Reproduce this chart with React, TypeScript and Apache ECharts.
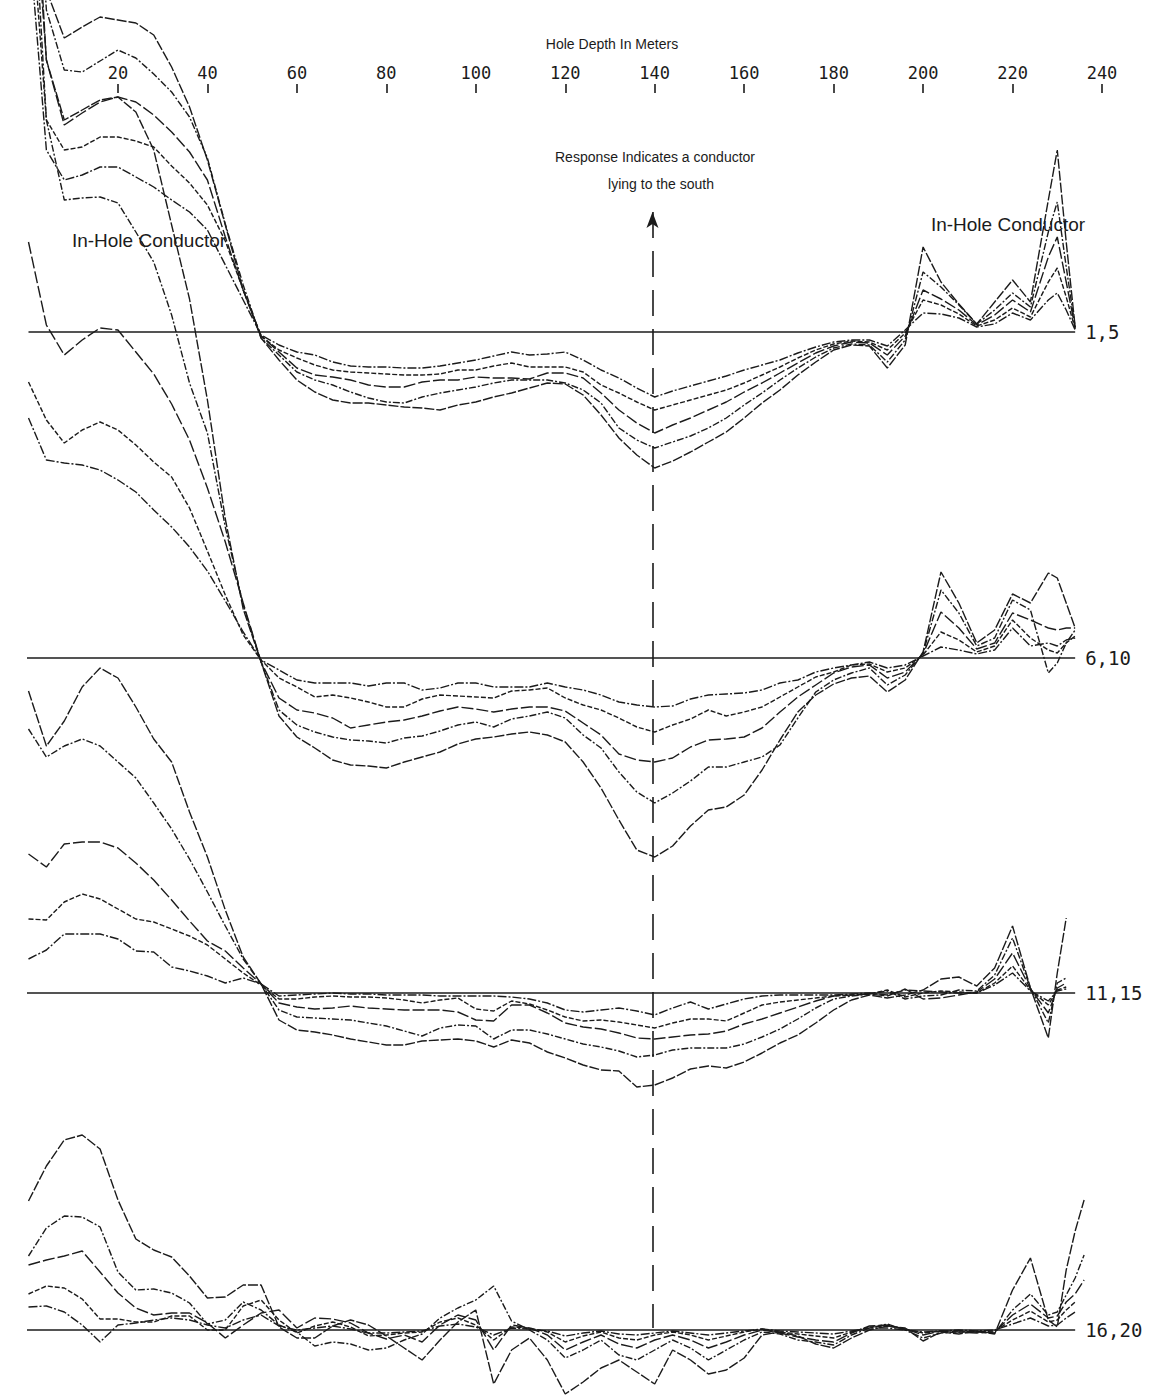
import React, { useEffect, useRef } from "react";
import * as echarts from "echarts";

// ---------------- data ----------------
const DEPTHS = [0,4,8,12,16,20,24,28,32,36,40,44,48,52,56,60,64,68,72,76,80,84,88,92,96,100,104,108,112,116,120,124,128,132,136,140,144,148,152,156,160,164,168,172,176,180,184,188,192,196,200,204,208,212,216,220,224,228,230,232,234,236];
const TICK_DEPTHS = [20,40,60,80,100,120,140,160,180,200,220,240];
const PANEL_LABELS = ["1,5", "6,10", "11,15", "16,20"];
const BASE_START = [0, -1.5, -2, -3.5];
const BASE_END = 234;

// Panel 1 (channels 1-5)
const P1_CH1 = [700,342,294,305,315,312,309,297,265,225,172,107,42,-6, -28,-48,-60,-68,-71,-71,-73,-75,-76,-78,-73,-70,-65,-61,-56,-51,-52,-63,-83,-106,-123,-136,-129,-120, -110,-100,-86,-71,-58,-43,-30,-18,-13,-14,-36,-13, 85,50,28,8,30,52,30,132,182,90,5,null];
const P1_CH2 = [600,322,262,260,271,282,274,258,240,215,174,108,47,-6, -23,-40,-48,-53,-60,-66,-70,-71,-65,-61,-58,-55,-51,-48,-48,-48,-51,-58,-71,-96,-108,-116,-110,-104, -96,-86,-73,-61,-48,-36,-25,-16,-12,-13,-30,-8, 60,45,27,8,22,39,25,100,130,65,5,null];
const P1_CH3 = [520,272,207,219,230,235,230,217,200,180,152,95,42,-4, -20,-36,-43,-45,-48,-53,-55,-55,-50,-48,-48,-45,-46,-46,-47,-41,-41,-46,-61,-78,-91,-101,-93,-86, -78,-70,-60,-51,-41,-31,-21,-14,-10,-11,-23,-4, 42,33,22,7,17,32,20,75,95,50,4,null];
const P1_CH4 = [450,212,182,185,195,195,191,185,166,149,127,91,42,-4, -18,-26,-33,-38,-40,-41,-42,-43,-43,-42,-38,-38,-34,-31,-35,-35,-35,-40,-53,-61,-70,-78,-73,-68, -63,-58,-51,-43,-35,-26,-18,-12,-9,-10,-18,-1, 32,27,18,6,12,24,15,50,64,35,3,null];
const P1_CH5 = [400,182,152,157,165,165,155,145,132,120,102,67,32,-3, -13,-20,-23,-30,-34,-35,-35,-36,-36,-34,-31,-28,-24,-20,-23,-22,-20,-28,-38,-46,-56,-65,-59,-54, -49,-44,-38,-33,-28,-21,-15,-10,-8,-8,-14,2, 19,18,14,5,8,19,12,32,39,22,2,null];

// Panel 2 (channels 6-10)
const P2_CH1 = [900,598,538,548,558,561,546,508,433,359,258,139,49,-4, -58,-79,-90,-102,-107,-108,-110,-104,-99,-94,-86,-81,-79,-76,-74,-77,-84,-104,-130,-162,-192,-199,-188,-168, -152,-149,-137,-112,-82,-54,-37,-26,-20,-18,-34,-22, 6,86,55,15,28,64,55,85,80,55,30,null];
const P2_CH2 = [850,538,458,460,461,455,426,396,343,275,225,131,53,-4, -52,-67,-74,-79,-82,-83,-85,-80,-78,-73,-67,-64,-69,-61,-58,-54,-60,-77,-90,-114,-134,-145,-135,-123, -109,-109,-104,-99,-87,-60,-34,-22,-15,-10,-27,-17, 5,68,45,12,20,58,48,-15,-5,15,28,null];
const P2_CH3 = [416,333,303,318,330,328,306,284,254,218,170,116,55,-4, -40,-52,-55,-60,-70,-67,-64,-62,-58,-53,-49,-51,-54,-51,-49,-49,-53,-65,-77,-96,-102,-104,-100,-89, -82,-81,-79,-70,-54,-39,-27,-15,-9,-7,-20,-14, 4,46,30,9,15,45,38,30,28,30,30,null];
const P2_CH4 = [276,238,215,228,236,228,213,196,181,150,107,63,23,-2, -20,-29,-39,-37,-40,-44,-49,-49,-41,-37,-38,-39,-40,-33,-32,-30,-40,-47,-52,-60,-69,-74,-67,-61, -52,-58,-54,-49,-39,-29,-19,-14,-7,-6,-14,-10, 3,26,18,6,12,38,20,8,5,15,22,null];
const P2_CH5 = [240,198,195,193,188,178,166,148,131,111,87,57,26,-2, -12,-22,-25,-25,-25,-28,-25,-25,-32,-30,-25,-25,-29,-29,-29,-25,-29,-32,-37,-44,-47,-49,-48,-41, -37,-36,-35,-32,-25,-22,-14,-10,-7,-4,-10,-7, 2,11,8,4,8,30,12,15,12,18,20,null];

// Panel 3 (channels 11-15)
const P3_CH1 = [302,247,272,306,325,315,286,254,231,181,136,83,36,9, -27,-37,-39,-42,-46,-49,-52,-52,-48,-47,-46,-48,-54,-47,-50,-59,-65,-72,-77,-78,-94,-92,-85,-76, -73,-75,-69,-60,-50,-42,-30,-17,-7,-2,-5,-2, 3,14,16,7,25,67,5,-45,20,75,null,null];
const P3_CH2 = [264,236,247,254,247,231,215,190,164,134,101,67,34,9, -17,-24,-25,-26,-27,-30,-33,-38,-43,-35,-32,-33,-46,-37,-37,-41,-46,-51,-54,-58,-64,-62,-57,-55, -55,-55,-51,-44,-36,-26,-15,-6,-3,-1,2,-6, -3,-2,3,2,18,55,5,-30,10,15,null,null];
const P3_CH3 = [139,126,149,151,151,145,130,113,93,72,52,42,25,9, -10,-14,-16,-15,-13,-15,-16,-17,-17,-17,-19,-27,-28,-12,-12,-20,-30,-34,-36,-40,-45,-46,-44,-42, -41,-38,-31,-26,-20,-14,-8,-3,-2,-1,-3,4, -6,-5,-2,1,14,40,4,-20,5,10,null,null];
const P3_CH4 = [74,73,91,99,94,84,74,71,64,57,48,34,20,8, -6,-6,-4,-3,-4,-4,-5,-7,-10,-7,-5,-16,-18,-8,-11,-17,-24,-28,-27,-29,-32,-35,-30,-26, -26,-28,-20,-12,-9,-7,-5,-3,-2,-1,3,-4, 0,2,1,0,10,27,3,-12,3,6,null,null];
const P3_CH5 = [34,43,59,59,59,54,42,41,26,22,17,10,15,9, -3,-2,-1,0,-1,-1,-2,-2,-2,-3,-3,-3,-3,-4,-6,-10,-17,-19,-17,-15,-18,-22,-15,-9, -16,-11,-6,-3,-2,-2,-2,-2,-1,0,-2,3, 2,1,0,0,8,20,2,-8,2,4,null,null];

// Panel 4 (channels 16-20)
const P4_CH1 = [129,164,190,195,181,130,91,80,73,54,32,33,45,45,3,-8, -8,4,10,5,-6,-18,-30,-10,8,20,-54,-20,-8,-30,-64,-52,-38,-30,-42,-54,-20,-30,-44,-40,-28,-5,-2,-6,-14,-18,-8,0,4,2,-11,-2,-4,-1,-4, 40,72,10,3,60,99,130];
const P4_CH2 = [74,102,114,113,103,58,40,41,37,27,6,10,28,20,5,-2, -16,-12,-14,-20,-18,-10,-4,12,22,30,44,9,0,-10,-28,-20,-10,-25,-30,-20,-10,-18,-30,-20,-10,-2,-4,-10,-12,-15,-5,2,6,0,-8,-3,-2,-2,-3, 20,36,15,18,35,52,75];
const P4_CH3 = [65,70,74,79,58,37,22,15,17,17,7,-8,5,17,20,2, 12,11,7,-3,-9,-5,-12,5,15,10,-20,5,2,-5,-20,-12,-5,-14,-18,-10,-5,-10,-18,-12,-5,0,-3,-7,-10,-12,-3,4,5,1,-5,-1,-2,-3,-2, 15,26,12,14,28,36,50];
const P4_CH4 = [36,44,42,31,11,11,8,8,14,14,0,0,24,30,10,-3, 4,8,3,-6,-5,-3,-2,8,12,5,-10,3,2,-2,-12,-6,-2,-8,-10,-5,-2,-5,-10,-6,-2,1,-2,-4,-6,-8,-2,3,4,1,-3,-1,-1,-2,-1, 10,19,8,10,20,28,null];
const P4_CH5 = [23,24,18,5,-12,5,7,10,12,10,5,2,10,15,4,0, 2,4,1,-3,-3,-2,-1,4,6,3,-5,2,1,-1,-6,-3,-1,-4,-5,-3,-1,-3,-5,-3,-1,1,-1,-2,-3,-4,-1,2,2,0,-2,-1,0,-1,0, 6,12,4,5,12,18,null];

const PANELS = [
  [P1_CH1, P1_CH2, P1_CH3, P1_CH4, P1_CH5],
  [P2_CH1, P2_CH2, P2_CH3, P2_CH4, P2_CH5],
  [P3_CH1, P3_CH2, P3_CH3, P3_CH4, P3_CH5],
  [P4_CH1, P4_CH2, P4_CH3, P4_CH4, P4_CH5],
];

// ---------------- layout & style ----------------
const W = 1154;
const H = 1397;
const GRID_TOP = 93;
const GRID_H = 1300;
const GRID_LEFT = 28.5;
const GRID_RIGHT = 52;
const BASELINES_PX = [332, 658, 993, 1330];
const INK = "#1b1b1b";
const MONO = "'DejaVu Sans Mono', monospace";
const SANS = "'Liberation Sans', Arial, sans-serif";
const CURVE_DASHES = [[10, 2], [7, 2, 2, 2], [12, 3], [5, 2], [9, 2, 2, 2]];
const ARROW_DEPTH = 139.5;
const ARROW_TOP = 120;
const ARROW_BOTTOM = -996;

export default function App() {
  const ref = useRef<HTMLDivElement>(null);

  useEffect(() => {
    if (!ref.current) return;
    const chart = echarts.init(ref.current, null, { renderer: "svg" });

    const grids = BASELINES_PX.map(() => ({
      left: GRID_LEFT,
      right: GRID_RIGHT,
      top: GRID_TOP,
      height: GRID_H,
      containLabel: false,
    }));

    const xAxes = BASELINES_PX.map((_, i) => ({
      type: "value",
      gridIndex: i,
      min: 0,
      max: 240,
      position: "top",
      show: i === 0,
      axisLine: { show: false, onZero: false },
      splitLine: { show: false },
      axisTick: {
        show: true,
        length: 9,
        customValues: TICK_DEPTHS,
        lineStyle: { color: INK, width: 1.6 },
      },
      axisLabel: {
        customValues: TICK_DEPTHS,
        margin: 12,
        fontFamily: MONO,
        fontSize: 17,
        color: INK,
      },
    }));

    const yAxes = BASELINES_PX.map((b, i) => {
      const max = b - GRID_TOP;
      return { type: "value", gridIndex: i, min: max - GRID_H, max, show: false };
    });

    const curveSeries: any[] = [];
    PANELS.forEach((curves, p) => {
      curves.forEach((vals, c) => {
        const data: number[][] = [];
        DEPTHS.forEach((d, k) => {
          const v = vals[k];
          if (v !== null && v !== undefined) data.push([d, v]);
        });
        curveSeries.push({
          type: "line",
          name: `P${p + 1}-${c + 1}`,
          xAxisIndex: p,
          yAxisIndex: p,
          data,
          showSymbol: false,
          clip: false,
          silent: true,
          lineStyle: { color: INK, width: 1.4, type: CURVE_DASHES[c] },
        });
      });
    });

    const baseSeries = BASELINES_PX.map((_, p) => ({
      type: "line",
      name: `base${p}`,
      xAxisIndex: p,
      yAxisIndex: p,
      data: [[BASE_START[p], 0], [BASE_END, 0]],
      showSymbol: false,
      silent: true,
      clip: false,
      lineStyle: { color: INK, width: 1.3 },
      endLabel: {
        show: true,
        formatter: () => PANEL_LABELS[p],
        distance: 10,
        color: INK,
        fontFamily: MONO,
        fontSize: 19,
      },
      markLine:
        p === 0
          ? {
              silent: true,
              symbol: ["arrow", "none"],
              symbolSize: [9, 16],
              label: { show: false },
              itemStyle: { color: INK },
              lineStyle: { color: INK, width: 1.6, type: [26, 13] },
              data: [[{ coord: [ARROW_DEPTH, ARROW_TOP] }, { coord: [ARROW_DEPTH, ARROW_BOTTOM] }]],
            }
          : undefined,
    }));

    const text = (t: string, x: number, y: number, size: number, family = SANS) => ({
      type: "text",
      x,
      y,
      silent: true,
      style: {
        text: t,
        fill: INK,
        fontSize: size,
        fontFamily: family,
        align: "center",
        verticalAlign: "middle",
      },
    });

    chart.setOption({
      animation: false,
      backgroundColor: "#ffffff",
      grid: grids,
      xAxis: xAxes,
      yAxis: yAxes,
      graphic: [
        text("Hole Depth In Meters", 612, 44, 14),
        text("Response Indicates a conductor", 655, 157, 14),
        text("lying to the south", 661, 184, 14),
        text("In-Hole Conductor", 149, 240, 19),
        text("In-Hole Conductor", 1008, 224, 19),
      ],
      series: [...curveSeries, ...baseSeries],
    });

    return () => chart.dispose();
  }, []);

  return (
    <div
      ref={ref}
      style={{ position: "absolute", left: 0, top: 0, width: W, height: H, background: "#fff" }}
    />
  );
}
